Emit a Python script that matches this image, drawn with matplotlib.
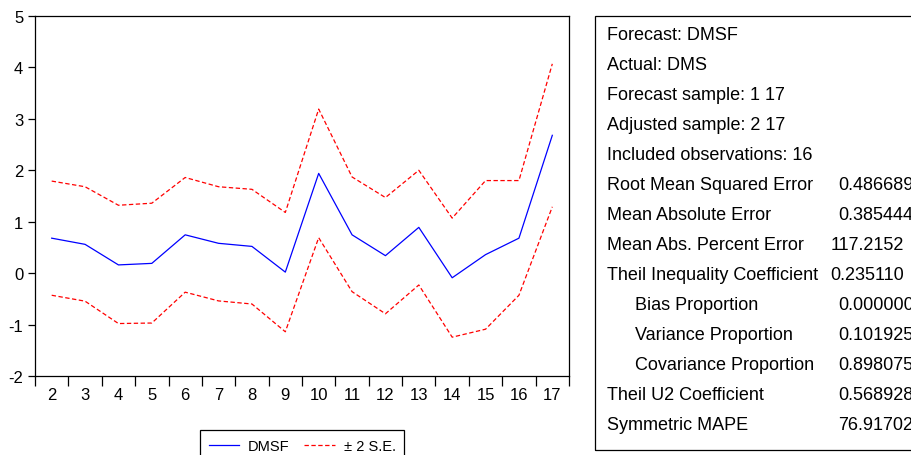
import numpy as np
import matplotlib
matplotlib.use("Agg")
import matplotlib.pyplot as plt
from matplotlib.patches import Rectangle
from matplotlib.lines import Line2D

plt.rcParams['font.family'] = ['Liberation Sans', 'DejaVu Sans']
plt.rcParams['axes.unicode_minus'] = False

# Dados
obs = [2, 3, 4, 5, 6, 7, 8, 9, 10, 11, 12, 13, 14, 15, 16, 17]
dmsf = [0.68, 0.56, 0.16, 0.19, 0.745, 0.58, 0.52, 0.02, 1.94, 0.745,
        0.34, 0.89, -0.09, 0.36, 0.68, 2.68]
upper = [1.79, 1.68, 1.32, 1.36, 1.86, 1.68, 1.63, 1.18, 3.19, 1.87,
         1.47, 2.00, 1.07, 1.80, 1.80, 4.07]
lower = [-0.43, -0.545, -0.98, -0.97, -0.37, -0.54, -0.60, -1.14, 0.69, -0.36,
         -0.79, -0.23, -1.245, -1.09, -0.43, 1.29]

stat_labels = ['Forecast: DMSF', 'Actual: DMS', 'Forecast sample: 1 17',
               'Adjusted sample: 2 17', 'Included observations: 16',
               'Root Mean Squared Error', 'Mean Absolute Error',
               'Mean Abs. Percent Error', 'Theil Inequality Coefficient',
               'Bias Proportion', 'Variance Proportion',
               'Covariance Proportion', 'Theil U2 Coefficient',
               'Symmetric MAPE']
stat_indent = [0, 0, 0, 0, 0, 0, 0, 0, 0, 1, 1, 1, 0, 0]
stat_values = ['', '', '', '', '', '0.486689', '0.385444', '117.2152',
               '0.235110', '0.000000', '0.101925', '0.898075', '0.568928',
               '76.91702']

W, H = 912, 456
fig = plt.figure(figsize=(W / 100, H / 100), dpi=100)
ax = fig.add_axes([35 / W, 1 - 377 / H, (569 - 35) / W, (377 - 17) / H])

ax.plot(obs, dmsf, color='#0000ff', lw=0.9)
ax.plot(obs, upper, color='#ff0000', lw=0.9, dashes=(3.5, 2))
ax.plot(obs, lower, color='#ff0000', lw=0.9, dashes=(3.5, 2))

ax.set_xlim(1.5, 17.5)
ax.set_ylim(-2, 5)
ax.set_yticks(range(-2, 6))
ax.set_xticks(np.arange(1.5, 18, 1.0))
ax.set_xticklabels([])
ax.set_xticks(obs, minor=True)
ax.set_xticklabels([str(o) for o in obs], minor=True)
ax.tick_params(axis='x', which='major', length=7, width=0.9, direction='out')
ax.tick_params(axis='x', which='minor', length=0, pad=8, labelsize=12)
ax.tick_params(axis='y', length=5, width=0.9, direction='out', labelsize=12)
for s in ax.spines.values():
    s.set_linewidth(0.9)

# Legenda
handles = [Line2D([], [], color='#0000ff', lw=0.9),
           Line2D([], [], color='#ff0000', lw=0.9, dashes=(3.5, 2))]
leg = fig.legend(handles, ['DMSF', '\u00b1 2 S.E.'], loc='upper left',
                 bbox_to_anchor=(200 / W, 1 - 431 / H), ncol=2,
                 fancybox=False, edgecolor='black', fontsize=10.5,
                 handlelength=2.1, handletextpad=0.6, columnspacing=1.0,
                 borderpad=0.6, borderaxespad=0, framealpha=1)
leg.get_frame().set_linewidth(0.9)

# Caixa de estatísticas
fig.add_artist(Rectangle((595 / W, 1 - 451 / H), 400 / W, (451 - 17) / H,
                         transform=fig.transFigure, fill=False,
                         edgecolor='black', lw=0.9))
for i, (lab, val) in enumerate(zip(stat_labels, stat_values)):
    y = 1 - (36 + 30 * i) / H
    x_lab = 635 if stat_indent[i] else 607
    fig.text(x_lab / W, y, lab, fontsize=13, va='center', ha='left')
    if val:
        x = 838
        if val == '117.2152':
            x = 831
        if val == '0.235110':
            x = 830
        fig.text(x / W, y, val, fontsize=13, va='center', ha='left')

fig.savefig('out.png', dpi=100)
